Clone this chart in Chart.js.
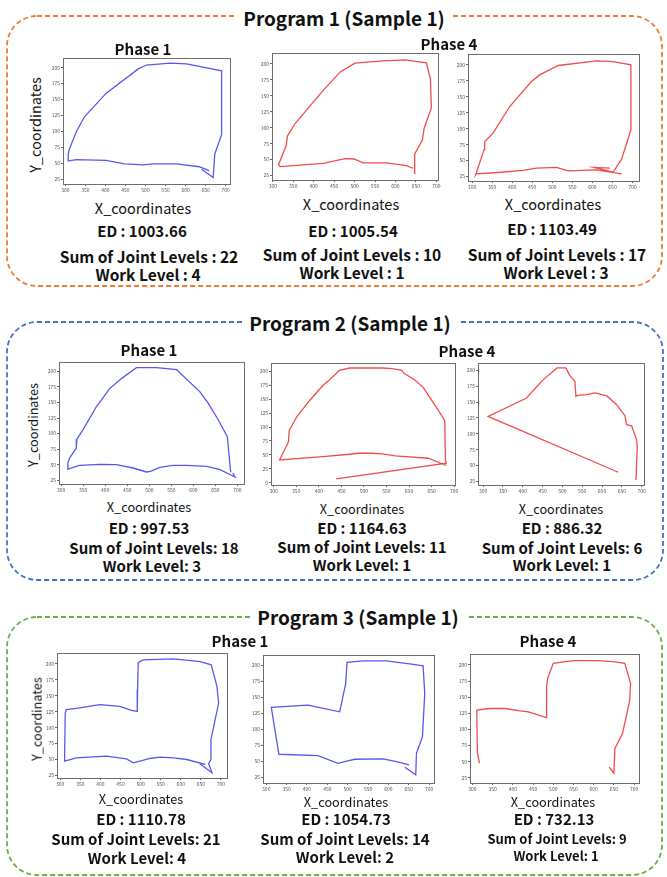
<!DOCTYPE html>
<html>
<head>
<meta charset="utf-8">
<script src="https://cdn.jsdelivr.net/npm/chart.js@4.4.1/dist/chart.umd.min.js"></script>
<style>
  html, body { margin: 0; padding: 0; background: #fff; }
  body { position: relative; width: 667px; height: 877px; overflow: hidden;
         font-family: "Noto Sans CJK KR", "Noto Sans", sans-serif; color: #111; }
  .lbl { position: absolute; white-space: nowrap; line-height: 1; transform: translate(-50%, -50%); }
  .ttl { position: absolute; white-space: nowrap; line-height: 1; transform: translate(-50%, -50%);
         background: #fff; padding: 0 7px; font-weight: 700; font-size: 19px; }
  canvas { position: absolute; }
  svg { position: absolute; left: 0; top: 0; }
</style>
</head>
<body>
<svg width="667" height="877">
  <rect x="7" y="16" width="655" height="270" rx="30" fill="none" stroke="#ed7d31" stroke-width="1.8" stroke-dasharray="5 3"/>
  <rect x="7" y="322" width="656" height="258" rx="30" fill="none" stroke="#4472c4" stroke-width="1.8" stroke-dasharray="5 3"/>
  <rect x="7" y="617" width="655" height="258" rx="30" fill="none" stroke="#70ad47" stroke-width="1.8" stroke-dasharray="5 3"/>
</svg>
<script>
// tick labels
const xTicks = [300, 350, 400, 450, 500, 550, 600, 650, 700];
const yTicks = [25, 50, 75, 100, 125, 150, 175, 200];
const yTicksZero = [0, 25, 50, 75, 100, 125, 150, 175, 200];

// Program 1 - Phase 1
const p1Phase1X = [659, 634, 577, 519, 494, 448, 402, 327.5, 308, 307, 309, 327.5, 348, 402, 482, 502.5, 561, 602.5, 690, 690, 673, 669, 640];
const p1Phase1Y = [39, 45, 49.5, 49.5, 48, 49.5, 55, 56, 54, 63.5, 71, 100, 123.5, 160, 198, 204, 207, 205.7, 195, 95, 65, 28, 41];
// Program 1 - Phase 4 (a)
const p1Phase4aX = [645.5, 647, 665.9, 670, 687.8, 685.4, 675.6, 622.8, 570, 500.8, 464.2, 419.5, 354.5, 335.8, 332.5, 313.8, 318, 423.6, 476.4, 498.4, 521, 578, 626.8, 643];
const p1Phase4aY = [28.6, 58.7, 80.5, 98.7, 131.4, 176.6, 201.6, 206.2, 204.7, 201, 187, 155.8, 106.5, 86.8, 71.7, 41.6, 39, 44.2, 51.4, 50.9, 44.7, 44.7, 40.5, 36.4];
// Program 1 - Phase 4 (b)
const p1Phase4bX = [672.6, 610.2, 539.5, 510.4, 460.5, 427.2, 364.9, 310.8, 309.1, 329.9, 331.6, 352.4, 394, 448, 468.8, 514.6, 610.2, 651.8, 695.8, 695.8, 672.6, 651.8, 610.2, 603.5, 643.5];
const p1Phase4bY = [29.2, 35.5, 33.9, 39.2, 38.1, 34.5, 31.3, 29.2, 27.7, 66.8, 79.9, 93, 134.7, 173.9, 184.3, 199, 206.3, 205.2, 200, 98.2, 52.2, 31.9, 38.1, 39.2, 38.1];

// Program 2 - Phase 1
const p2Phase1X = [684.8, 677.2, 656.7, 634, 615, 561.9, 516.3, 470.8, 436.6, 410, 379.7, 349.3, 335.7, 334.2, 319, 315.2, 315.2, 341.7, 387.3, 425.2, 463.2, 493.5, 502.7, 523.9, 554.3, 584.6, 630.2, 660.5, 694.7, 689.4];
const p2Phase1Y = [37.8, 95.2, 121.8, 148.4, 167, 202.7, 205.9, 205.9, 188.3, 172.3, 143.1, 105.9, 91, 76.6, 60.6, 52.7, 43.1, 49, 50.5, 50, 44.7, 38.3, 39.4, 45.7, 48.9, 48.9, 47.3, 42, 30.3, 36.7];
// Program 2 - Phase 4 (a)
const p2Phase4aX = [682.9, 642.8, 569.9, 540.7, 518.8, 489.6, 467.8, 409.4, 313.1, 332.8, 334.3, 351.1, 380.2, 409.4, 424, 445.9, 467.8, 540.7, 562.6, 584.5, 588.1, 613.6, 631.9, 650.1, 664.7, 679.3, 680.7, 682.9, 438.6];
const p2Phase4aY = [31, 44, 48.2, 51.8, 53, 53, 51.2, 47, 41, 73.8, 93.5, 118.5, 148.2, 175, 185.1, 201.8, 206, 206, 204.8, 201.8, 197, 183.9, 170.8, 148.2, 130.4, 111.3, 41.1, 35.1, 7.1];
// Program 2 - Phase 4 (b)
const p2Phase4bX = [641, 312.6, 409.5, 434.7, 451.6, 486.9, 508.8, 518.9, 531.6, 534.1, 537.5, 561.1, 582.1, 607.4, 611.6, 636.8, 657.9, 662.1, 674.7, 687.4, 689, 685.7];
const p2Phase4bY = [39.2, 127.5, 156.6, 174.1, 185.7, 204.2, 204.2, 192.1, 183.1, 159.3, 160.8, 161.9, 164.6, 160.8, 160.3, 146, 128.6, 114.3, 112.7, 90.5, 79.9, 27];

// Program 3 - Phase 1 (a)
const p3Phase1aX = [646.7, 677.5, 669.2, 675, 675, 694.2, 690, 675.8, 648.3, 581.7, 506.7, 494.2, 492.5, 491.7, 477.5, 448.3, 398.3, 344.2, 315, 312.5, 310.8, 340, 415, 465, 481.7, 498.3, 523.3, 548.3, 581.7, 615, 660.8];
const p3Phase1aY = [43.8, 29.2, 43.8, 50, 81.3, 138.5, 164.6, 198.4, 203.6, 207.8, 206.3, 202.1, 159.4, 125.5, 127.1, 133.3, 135.9, 130.7, 128.1, 122.9, 47.4, 52.6, 55.2, 51, 44.8, 47.4, 51.6, 53.6, 52.6, 50, 42.2];
// Program 3 - Phase 1 (b)
const p3Phase1bX = [640.2, 667.2, 668.9, 683.6, 689.3, 685.2, 656.6, 595.1, 537.7, 498.4, 495.1, 480.3, 402.5, 312.3, 331.1, 427, 476.2, 492.6, 517.2, 586.9, 619.7, 650.8];
const p3Phase1bY = [40.6, 28.7, 62.4, 88.4, 155.9, 199, 201.6, 206.7, 206.7, 204.7, 171.4, 127.3, 137.7, 134.1, 60.9, 58.8, 46.8, 49.4, 53.1, 53.6, 49.4, 44.2];
// Program 3 - Phase 4
const p3Phase4X = [317.3, 312.3, 310.7, 343.6, 380.7, 417.7, 438.3, 483.5, 483.5, 486, 500, 549.4, 607, 648.1, 677, 691, 689.3, 671.2, 652.3, 649.8, 638.3];
const p3Phase4Y = [47.9, 64, 129.9, 132.5, 132.5, 128.9, 127.3, 118.5, 166.3, 179.2, 202.6, 206.7, 206.7, 205.2, 202.6, 171.4, 145.5, 93.6, 70.2, 32.3, 41.6];

const BLUE = '#5858f0';
const RED = '#ef4d4d';
const FONT = '"Noto Sans CJK KR", "Noto Sans", sans-serif';

// frame: [left, top, right, bottom] of plot area on the page
const panels = [
  { xs: p1Phase1X, ys: p1Phase1Y, color: BLUE, frame: [63, 58, 230, 184], xr: [294, 711], yr: [18, 215], yt: yTicks },
  { xs: p1Phase4aX, ys: p1Phase4aY, color: RED, frame: [272, 53, 438, 180], xr: [298, 704], yr: [18, 217], yt: yTicks },
  { xs: p1Phase4bX, ys: p1Phase4bY, color: RED, frame: [468, 54, 639, 181], xr: [290, 716], yr: [18, 217], yt: yTicks },
  { xs: p2Phase1X, ys: p2Phase1Y, color: BLUE, frame: [59, 362, 244, 484], xr: [295, 715], yr: [19, 215], yt: yTicks },
  { xs: p2Phase4aX, ys: p2Phase4aY, color: RED, frame: [271, 363, 455, 485], xr: [294, 702], yr: [-4, 215], yt: yTicksZero },
  { xs: p2Phase4bX, ys: p2Phase4bY, color: RED, frame: [478, 363, 644, 485], xr: [287, 706], yr: [19, 212], yt: yTicks },
  { xs: p3Phase1aX, ys: p3Phase1aY, color: BLUE, frame: [57, 653, 227, 778], xr: [292, 715], yr: [21, 217], yt: yTicks },
  { xs: p3Phase1bX, ys: p3Phase1bY, color: BLUE, frame: [263, 655, 434, 783], xr: [292, 712], yr: [16, 216], yt: yTicks },
  { xs: p3Phase4X, ys: p3Phase4Y, color: RED, frame: [470, 654, 639, 783], xr: [294, 712], yr: [17, 217], yt: yTicks }
];

const Y_AXIS_W = 16, X_AXIS_H = 11, PAD_T = 4, PAD_R = 6;

const frameBox = {
  id: 'frameBox',
  afterDraw(chart) {
    const a = chart.chartArea, ctx = chart.ctx;
    ctx.save();
    ctx.strokeStyle = '#6d6d6d';
    ctx.lineWidth = 1;
    ctx.strokeRect(Math.round(a.left) + 0.5, Math.round(a.top) + 0.5, Math.round(a.right - a.left), Math.round(a.bottom - a.top));
    ctx.restore();
  }
};

panels.forEach(p => {
  const [l, t, r, b] = p.frame;
  const cv = document.createElement('canvas');
  const w = (r - l) + Y_AXIS_W + PAD_R;
  const h = (b - t) + PAD_T + X_AXIS_H;
  cv.width = w; cv.height = h;
  cv.style.left = (l - Y_AXIS_W) + 'px';
  cv.style.top = (t - PAD_T) + 'px';
  cv.style.width = w + 'px'; cv.style.height = h + 'px';
  document.body.appendChild(cv);

  const tickFont = { family: FONT, size: 5 };
  new Chart(cv.getContext('2d'), {
    type: 'scatter',
    data: {
      datasets: [{
        data: p.xs.map((x, i) => ({ x: x, y: p.ys[i] })),
        showLine: true,
        borderColor: p.color,
        borderWidth: 1.3,
        pointRadius: 0,
        tension: 0,
        fill: false
      }]
    },
    options: {
      responsive: false,
      animation: false,
      devicePixelRatio: 1,
      layout: { padding: { top: PAD_T, right: PAD_R, left: 0, bottom: 0 } },
      plugins: { legend: { display: false }, tooltip: { enabled: false } },
      scales: {
        x: {
          type: 'linear', min: p.xr[0], max: p.xr[1],
          afterBuildTicks: s => { s.ticks = xTicks.map(v => ({ value: v })); },
          afterFit: s => { s.height = X_AXIS_H; },
          grid: { drawOnChartArea: false, drawTicks: true, tickLength: 2, color: '#666' },
          border: { display: false },
          ticks: { font: tickFont, color: '#555', padding: 1, maxRotation: 0, autoSkip: false }
        },
        y: {
          type: 'linear', min: p.yr[0], max: p.yr[1],
          afterBuildTicks: s => { s.ticks = p.yt.map(v => ({ value: v })); },
          afterFit: s => { s.width = Y_AXIS_W; },
          grid: { drawOnChartArea: false, drawTicks: true, tickLength: 2, color: '#666' },
          border: { display: false },
          ticks: { font: tickFont, color: '#555', padding: 1, autoSkip: false }
        }
      }
    },
    plugins: [frameBox]
  });
});

// text
function label(text, cx, cy, size, weight, cls) {
  const d = document.createElement('div');
  d.className = cls || 'lbl';
  d.textContent = text;
  d.style.left = cx + 'px';
  d.style.top = cy + 'px';
  if (size) d.style.fontSize = size + 'px';
  if (weight) d.style.fontWeight = weight;
  document.body.appendChild(d);
  return d;
}
function yLabel(cx, cy, size) {
  const d = label('Y_coordinates', cx, cy, size, 400);
  d.style.transform = 'translate(-50%, -50%) rotate(-90deg)';
}

label('Program 1 (Sample 1)', 344, 17, 19, 700, 'ttl');
label('Program 2 (Sample 1)', 350, 322, 19, 700, 'ttl');
label('Program 3 (Sample 1)', 358, 616, 19, 700, 'ttl');

label('Phase 1', 143, 48, 15, 700);
label('Phase 4', 449, 43, 15, 700);
label('Phase 1', 149, 349, 15, 700);
label('Phase 4', 467, 350, 15, 700);
label('Phase 1', 240, 640, 15, 700);
label('Phase 4', 548, 640, 15, 700);

yLabel(35, 125, 14.5);
yLabel(33, 425, 12.7);
yLabel(37, 719, 12.7);

label('X_coordinates', 143, 208, 14.5, 400);
label('X_coordinates', 351, 204, 14.5, 400);
label('X_coordinates', 553, 204, 14.5, 400);
label('X_coordinates', 149, 507, 12.7, 400);
label('X_coordinates', 362, 509, 12.7, 400);
label('X_coordinates', 561, 509, 12.7, 400);
label('X_coordinates', 141, 799, 12.7, 400);
label('X_coordinates', 346, 802, 12.7, 400);
label('X_coordinates', 553, 802, 12.7, 400);

label('ED : 1003.66', 142, 230, 15, 700);
label('ED : 1005.54', 353, 230, 15, 700);
label('ED : 1103.49', 552, 228, 15, 700);
label('Sum of Joint Levels : 22', 149, 257, 15.5, 700);
label('Sum of Joint Levels : 10', 352, 255, 15.5, 700);
label('Sum of Joint Levels : 17', 557, 255, 15.5, 700);
label('Work Level : 4', 148, 275, 15.5, 700);
label('Work Level : 1', 352, 273, 15.5, 700);
label('Work Level : 3', 556, 273, 15.5, 700);

label('ED : 997.53', 149, 527, 15, 700);
label('ED : 1164.63', 362, 527, 15, 700);
label('ED : 886.32', 562, 527, 15, 700);
label('Sum of Joint Levels: 18', 154, 547, 15, 700);
label('Sum of Joint Levels: 11', 362, 546, 15, 700);
label('Sum of Joint Levels: 6', 562, 547, 15, 700);
label('Work Level: 3', 152, 565, 15, 700);
label('Work Level: 1', 362, 564, 15, 700);
label('Work Level: 1', 562, 564, 15, 700);

label('ED : 1110.78', 141, 818, 15, 700);
label('ED : 1054.73', 346, 818, 15, 700);
label('ED : 732.13', 554, 818, 15, 700);
label('Sum of Joint Levels: 21', 136, 838, 15, 700);
label('Sum of Joint Levels: 14', 345, 838, 15, 700);
label('Sum of Joint Levels: 9', 557, 838, 13, 700);
label('Work Level: 4', 137, 857, 15, 700);
label('Work Level: 2', 345, 856, 15, 700);
label('Work Level: 1', 556, 855, 13, 700);
</script>
</body>
</html>
